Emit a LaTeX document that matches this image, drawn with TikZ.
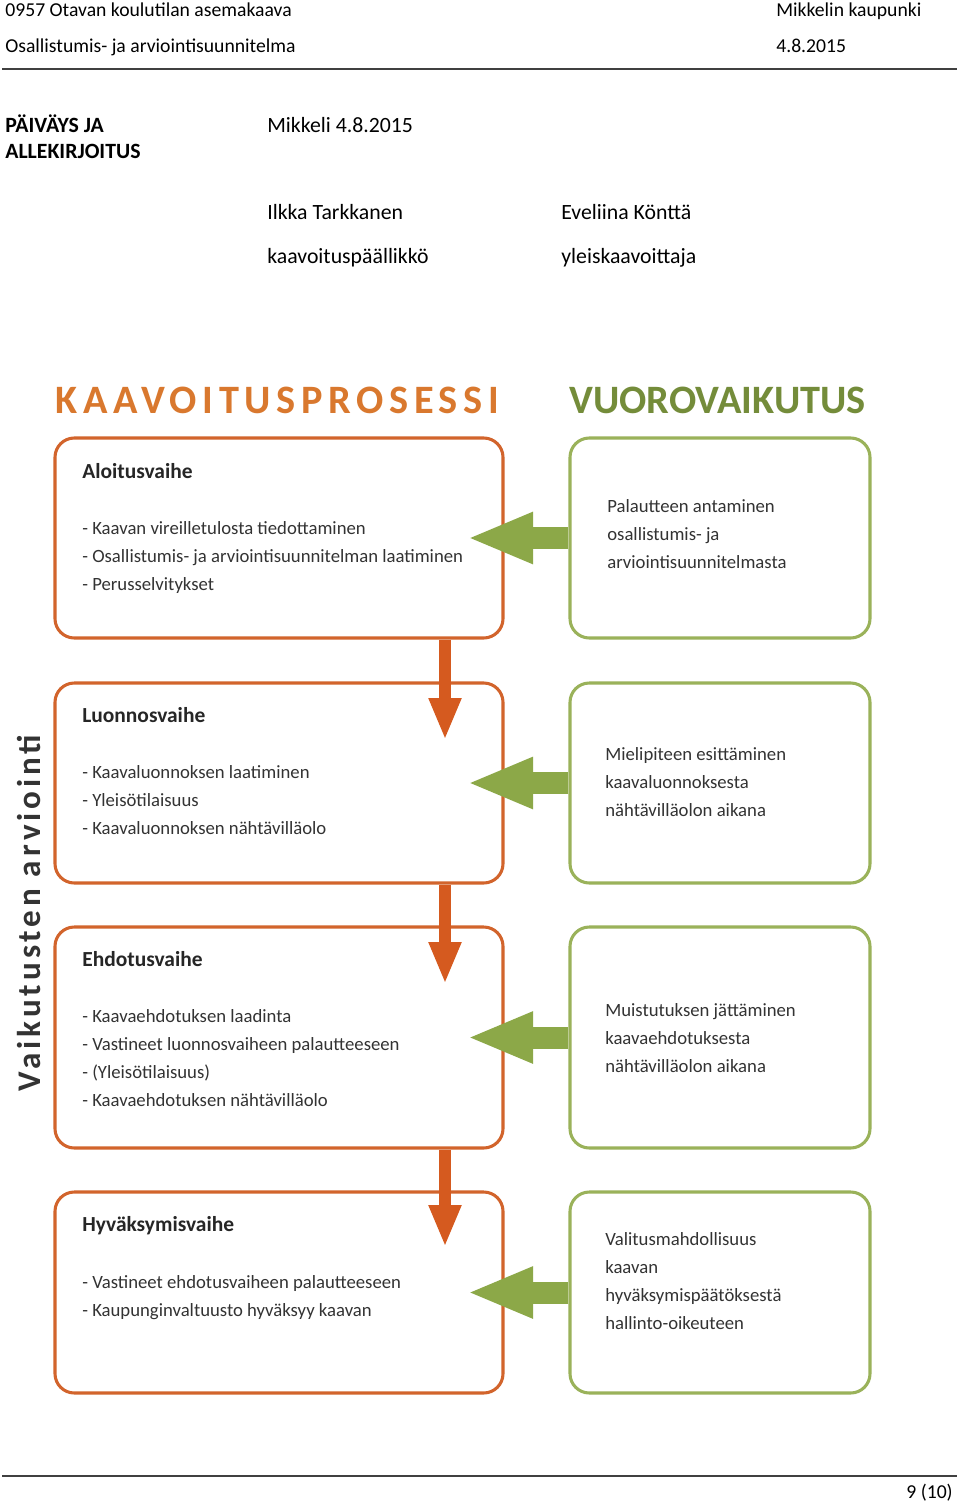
\documentclass[tikz,border=0pt]{standalone}
\usepackage{fontspec}
\setmainfont{Carlito}
\usetikzlibrary{arrows.meta}
\definecolor{otitle}{HTML}{D9782E}
\definecolor{oborder}{HTML}{D2642C}
\definecolor{oarrowc}{HTML}{D55A1F}
\definecolor{gtitle}{HTML}{748C3A}
\definecolor{gborder}{HTML}{9AB25A}
\definecolor{garrowc}{HTML}{8CA848}
\definecolor{boxtext}{HTML}{333333}
\definecolor{rulec}{HTML}{404040}
\begin{document}
\begin{tikzpicture}[x=0.62pt,y=-0.62pt,
  hdr/.style={anchor=base west,inner sep=0pt,font=\fontsize{12.2}{14}\selectfont},
  sig/.style={anchor=base west,inner sep=0pt,font=\fontsize{13.5}{16}\selectfont},
  sigb/.style={sig,font=\fontsize{13.5}{16}\selectfont\bfseries},
  btitle/.style={anchor=base west,inner sep=0pt,text=black!85,font=\fontsize{13.3}{16}\selectfont\bfseries},
  btext/.style={anchor=base west,inner sep=0pt,text=boxtext,font=\fontsize{11.6}{14}\selectfont},
  obox/.style={draw=oborder,line width=1.9pt,rounded corners=12pt,minimum width={448*0.62pt},inner sep=0pt},
  gbox/.style={draw=gborder,line width=1.9pt,rounded corners=12pt,minimum width={300*0.62pt},inner sep=0pt},
  oarrow/.style={draw=oarrowc,line width={12*0.62pt},-{Triangle[width={30*0.62pt},length={42*0.62pt},fill=oarrowc]}},
  garrow/.style={draw=garrowc,line width={22*0.62pt},-{Triangle[width={47*0.62pt},length={66*0.62pt},fill=garrowc]}},
  rule/.style={draw=rulec,line width=0.7pt}
]
\useasboundingbox (0,0) rectangle (960,1502);
\fill[white] (0,0) rectangle (960,1502);

% header
\node[hdr] (h1) at (5,17) {0957 Otavan koulutilan asemakaava};
\node[hdr] (h2) at (776,17) {Mikkelin kaupunki};
\node[hdr] (h3) at (5,53) {Osallistumis- ja arviointisuunnitelma};
\node[hdr] (h4) at (776,53) {4.8.2015};
\coordinate (r1a) at (2,69);
\coordinate (r1b) at (957,69);
\draw[rule] (r1a) -- (r1b);

\node[sigb] (p1) at (5,133) {PÄIVÄYS JA};
\node[sigb] (p2) at (5,159) {ALLEKIRJOITUS};
\node[sig] (p3) at (267,133) {Mikkeli 4.8.2015};
\node[sig] (s1) at (267,220) {Ilkka Tarkkanen};
\node[sig] (s2) at (561,220) {Eveliina Könttä};
\node[sig] (s3) at (267,264) {kaavoituspäällikkö};
\node[sig] (s4) at (561,264) {yleiskaavoittaja};

% titles
\node[anchor=base west,inner sep=0pt,text=otitle,font=\fontsize{25}{28}\selectfont\bfseries\addfontfeatures{LetterSpace=14}] (t1) at (55,414) {KAAVOITUSPROSESSI};
\node[anchor=base west,inner sep=0pt,text=gtitle,font=\fontsize{25}{28}\selectfont\bfseries] (t2) at (569,414) {VUOROVAIKUTUS};

% left boxes
\node[obox,minimum height={200*0.62pt}] (b1) at (279,538) {};
\node[obox,minimum height={200*0.62pt}] (b2) at (279,783) {};
\node[obox,minimum height={221*0.62pt}] (b3) at (279,1037.5) {};
\node[obox,minimum height={201*0.62pt}] (b4) at (279,1292.5) {};
% right boxes
\node[gbox,minimum height={200*0.62pt}] (g1) at (720,538) {};
\node[gbox,minimum height={200*0.62pt}] (g2) at (720,783) {};
\node[gbox,minimum height={221*0.62pt}] (g3) at (720,1037.5) {};
\node[gbox,minimum height={201*0.62pt}] (g4) at (720,1292.5) {};

% left texts
\node[btitle] (b1t) at (82,478) {Aloitusvaihe};
\node[btext] (b1a) at (82,534) {- Kaavan vireilletulosta tiedottaminen};
\node[btext] (b1b) at (82,562) {- Osallistumis- ja arviointisuunnitelman laatiminen};
\node[btext] (b1c) at (82,590) {- Perusselvitykset};

\node[btitle] (b2t) at (82,722) {Luonnosvaihe};
\node[btext] (b2a) at (82,778) {- Kaavaluonnoksen laatiminen};
\node[btext] (b2b) at (82,806) {- Yleisötilaisuus};
\node[btext] (b2c) at (82,834) {- Kaavaluonnoksen nähtävilläolo};

\node[btitle] (b3t) at (82,966) {Ehdotusvaihe};
\node[btext] (b3a) at (82,1022) {- Kaavaehdotuksen laadinta};
\node[btext] (b3b) at (82,1050) {- Vastineet luonnosvaiheen palautteeseen};
\node[btext] (b3c) at (82,1078) {- (Yleisötilaisuus)};
\node[btext] (b3d) at (82,1106) {- Kaavaehdotuksen nähtävilläolo};

\node[btitle] (b4t) at (82,1231) {Hyväksymisvaihe};
\node[btext] (b4a) at (82,1288) {- Vastineet ehdotusvaiheen palautteeseen};
\node[btext] (b4b) at (82,1316) {- Kaupunginvaltuusto hyväksyy kaavan};

% right texts
\node[btext] (g1a) at (607,512) {Palautteen antaminen};
\node[btext] (g1b) at (607,540) {osallistumis- ja};
\node[btext] (g1c) at (607,568) {arviointisuunnitelmasta};

\node[btext] (g2a) at (605,760) {Mielipiteen esittäminen};
\node[btext] (g2b) at (605,788) {kaavaluonnoksesta};
\node[btext] (g2c) at (605,816) {nähtävilläolon aikana};

\node[btext] (g3a) at (605,1016) {Muistutuksen jättäminen};
\node[btext] (g3b) at (605,1044) {kaavaehdotuksesta};
\node[btext] (g3c) at (605,1072) {nähtävilläolon aikana};

\node[btext] (g4a) at (605,1245) {Valitusmahdollisuus};
\node[btext] (g4b) at (605,1273) {kaavan};
\node[btext] (g4c) at (605,1301) {hyväksymispäätöksestä};
\node[btext] (g4d) at (605,1329) {hallinto-oikeuteen};

% orange arrows
\coordinate (oa1) at (445,740);
\coordinate (oa2) at (445,984);
\coordinate (oa3) at (445,1247);
\draw[oarrow] (b1.south -| oa1) -- (oa1);
\draw[oarrow] (b2.south -| oa2) -- (oa2);
\draw[oarrow] (b3.south -| oa3) -- (oa3);

% green arrows
\coordinate (ga1) at (467,538);
\coordinate (ga2) at (467,783);
\coordinate (ga3) at (467,1037.5);
\coordinate (ga4) at (467,1292.5);
\draw[garrow] (g1.west) -- (ga1);
\draw[garrow] (g2.west) -- (ga2);
\draw[garrow] (g3.west) -- (ga3);
\draw[garrow] (g4.west) -- (ga4);

% side label
\node[rotate=90,inner sep=0pt,text=black!80,font=\fontsize{20.5}{24}\selectfont\bfseries\addfontfeatures{LetterSpace=12}] (va) at (29,913) {Vaikutusten arviointi};

% footer
\coordinate (r2a) at (2,1476);
\coordinate (r2b) at (957,1476);
\draw[rule] (r2a) -- (r2b);
\node[hdr,anchor=base east] (pg) at (953,1498) {9 (10)};
\end{tikzpicture}
\end{document}
